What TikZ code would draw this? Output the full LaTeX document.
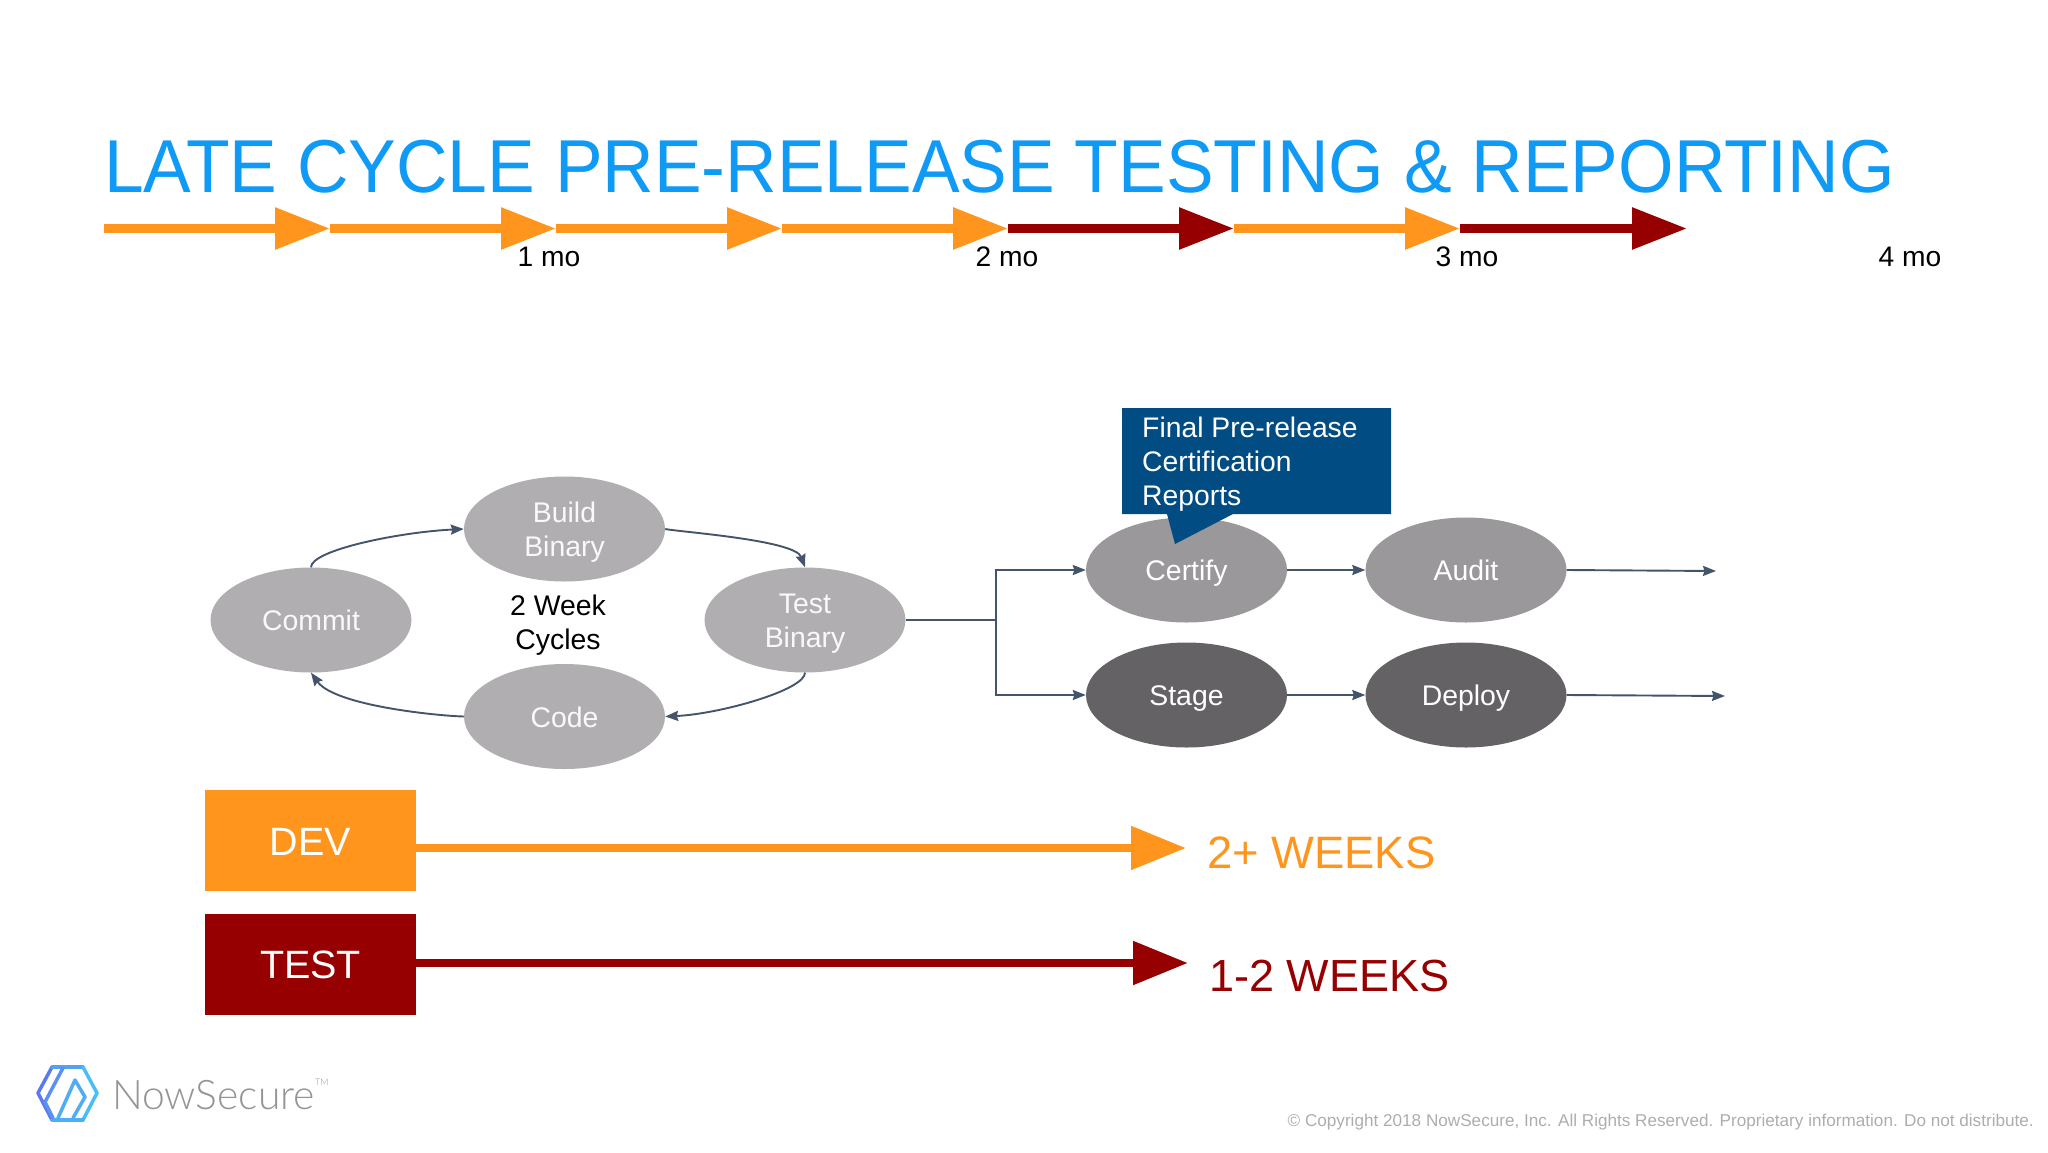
\documentclass[tikz,border=0pt]{standalone}
\usepackage{fontspec}
\setmainfont{Liberation Sans}
\newfontfamily\logofont{Lato Light}
\newcommand\elline[1]{\rule{0pt}{21pt}\smash{#1}}
\usetikzlibrary{arrows.meta,shapes.geometric,calc}
\definecolor{orangeA}{HTML}{FF951D}
\definecolor{redA}{HTML}{960000}
\definecolor{titleblue}{HTML}{0F9BF5}
\definecolor{lightell}{HTML}{B0AEB1}
\definecolor{midell}{HTML}{9A989A}
\definecolor{darkell}{HTML}{646265}
\definecolor{callblue}{HTML}{024C84}
\definecolor{conn}{HTML}{44546A}
\tikzset{
  x=1pt,y=-1pt,
  seg/.style={line width=9pt,-{Triangle[length=55pt,width=40pt]}},
  longseg/.style={line width=8.5pt,-{Triangle[length=55pt,width=42pt]}},
  ell/.style={ellipse,minimum width=201pt,minimum height=105pt,inner sep=0pt,text=white,align=center,font=\fontsize{28.4}{34}\selectfont},
  lightnode/.style={ell,fill=lightell,text=white!92!lightell},
  mo/.style={font=\fontsize{28.2}{34}\selectfont,text=black},
  conline/.style={draw=conn,line width=1.9pt,-{Stealth[length=13pt,width=10pt,inset=1.5pt]}},
  box/.style={minimum width=211pt,minimum height=101pt,inner sep=0pt,text=white,font=\fontsize{39.5}{44}\selectfont},
  wk/.style={anchor=west,inner sep=0pt,font=\fontsize{45.4}{52}\selectfont},
  calltext/.style={anchor=base west,inner sep=0pt,text=white,font=\fontsize{28.3}{34}\selectfont},
  logoline/.style={line width=3.5pt,line join=round,line cap=round},
}
\begin{document}
\begin{tikzpicture}
\useasboundingbox (0,0) rectangle (2048,1152);
% title
\node[anchor=base west,inner sep=0pt,text=titleblue,font=\fontsize{75}{80}\selectfont\addfontfeature{FakeStretch=0.952}] (title) at (104,192) {LATE CYCLE PRE-RELEASE TESTING \& REPORTING};
% timeline
\foreach \n/\x in {a/104,b/330,c/556,d/782,e/1008,f/1234,g/1460,h/1687}{\coordinate (t\n) at (\x,228.5);}
\draw[seg,orangeA] (ta) -- (tb);
\draw[seg,orangeA] (tb) -- (tc);
\draw[seg,orangeA] (tc) -- (td);
\draw[seg,orangeA] (td) -- (te);
\draw[seg,redA] (te) -- (tf);
\draw[seg,orangeA] (tf) -- (tg);
\draw[seg,redA] (tg) -- (th);
\node[mo] (m1) at (549,257) {1 mo};
\node[mo] (m2) at (1007,257) {2 mo};
\node[mo] (m3) at (1467,257) {3 mo};
\node[mo] (m4) at (1910,257) {4 mo};
% cycle
\node[lightnode] (commit) at (311,620) {\elline{Commit}};
\node[lightnode] (build) at (564.5,529) {\elline{Build}\\\elline{Binary}};
\node[lightnode] (test) at (805,620) {\elline{Test}\\\elline{Binary}};
\node[lightnode] (code) at (564.5,716.5) {\elline{Code}};
\node[align=center,inner sep=0pt,text=black,font=\fontsize{28.4}{34.5}\selectfont] (cycles) at (558,622) {\elline{2 Week}\\\elline{Cycles}};
\draw[conline] (commit.north) .. controls (311,550) and (400,532) .. (build.west);
\draw[conline] (build.east) .. controls (680,532) and (795,540) .. (test.north);
\draw[conline] (test.south) .. controls (805,690) and (720,714) .. (code.east);
\draw[conline] (code.west) .. controls (440,716) and (335,706) .. (commit.south);
% pipeline
\node[ell,fill=midell] (certify) at (1186.5,570) {\elline{Certify}};
\node[ell,fill=midell] (audit) at (1466,570) {\elline{Audit}};
\node[ell,fill=darkell] (stage) at (1186.5,695) {\elline{Stage}};
\node[ell,fill=darkell] (deploy) at (1466,695) {\elline{Deploy}};
\coordinate (split) at (996,620);
\coordinate (aEnd) at (1716,571);
\coordinate (dEnd) at (1725,696);
\draw[draw=conn,line width=1.9pt] (test.east) -- (split);
\draw[conline] (split) |- (certify.west);
\draw[conline] (split) |- (stage.west);
\draw[conline] (certify.east) -- (audit.west);
\draw[conline] (stage.east) -- (deploy.west);
\draw[conline] (audit.east) -- (aEnd);
\draw[conline] (deploy.east) -- (dEnd);
% callout
\fill[callblue] (1122,408) -- (1391,408) -- (1391,514) -- (1233,514) -- (1175,544) -- (1167,514) -- (1122,514) -- cycle;
\node[calltext] (call) at (1142,437) {Final Pre-release};
\node[calltext] (call2) at (1142,471) {Certification};
\node[calltext] (call3) at (1142,505) {Reports};
% legend
\node[box,fill=orangeA] (dev) at (310.5,840.5) {\rule{0pt}{30pt}DEV};
\node[box,fill=redA] (testb) at (310.5,964) {\rule{0pt}{30pt}TEST};
\coordinate (devEnd) at (1186,848);
\coordinate (testEnd) at (1188,963);
\draw[longseg,orangeA] (dev.east |- devEnd) -- (devEnd);
\draw[longseg,redA] (testb.east |- testEnd) -- (testEnd);
\node[wk,text=orangeA] (w1) at (1207,853) {2+ WEEKS};
\node[wk,text=redA,font=\fontsize{45}{52}\selectfont] (w2) at (1209,976) {1-2 WEEKS};
% logo
\draw[logoline,color={rgb,255:red,92;green,120;blue,240}] (52,1067) -- (38,1093) -- (52,1120);
\draw[logoline,color={rgb,255:red,86;green,160;blue,244}] (52,1067) -- (83,1067);
\draw[logoline,color={rgb,255:red,72;green,190;blue,247}] (83,1067) -- (97,1093) -- (83,1120);
\draw[logoline,color={rgb,255:red,74;green,176;blue,245}] (52,1120) -- (83,1120);
\draw[logoline,color={rgb,255:red,92;green,144;blue,242}] (63,1068) -- (45,1102) -- (53,1118);
\draw[logoline,color={rgb,255:red,80;green,172;blue,245}] (58,1118) -- (75,1080) -- (85,1097) -- (73,1118);
\node[anchor=base west,inner sep=0pt,text=black!42,font=\logofont\fontsize{40.8}{48}\selectfont] (logo) at (112,1109) {NowSecure};
\node[anchor=base west,inner sep=0pt,text=black!42,font=\logofont\fontsize{9}{10}\selectfont] (tm) at (315,1085) {TM};
\node[anchor=base east,inner sep=0pt,text=black!32,font=\fontsize{17.14}{20}\selectfont] (copy) at (2034,1126) {© Copyright 2018 NowSecure, Inc. All Rights Reserved. Proprietary information. Do not distribute.};
\end{tikzpicture}
\end{document}
